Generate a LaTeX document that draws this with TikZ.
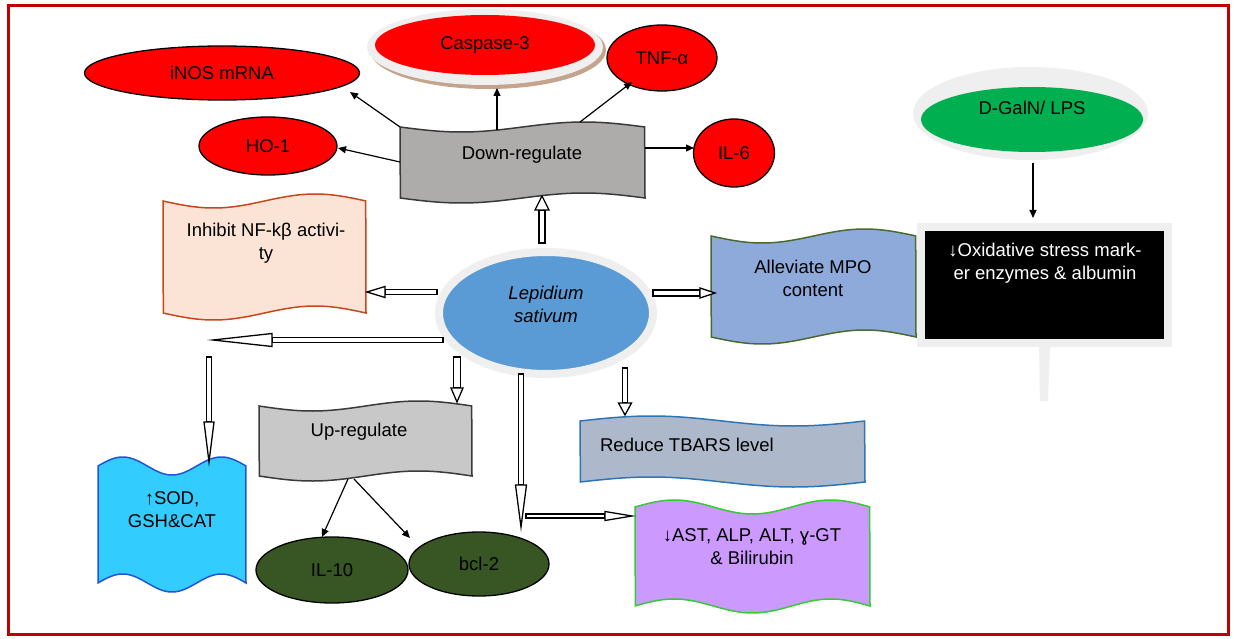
\documentclass[tikz,border=0pt]{standalone}
\usepackage{fontspec}
\setmainfont{Liberation Sans}
\usetikzlibrary{calc,arrows.meta,shapes.geometric,backgrounds}
\definecolor{framered}{HTML}{C00000}
\definecolor{ellred}{HTML}{FF0000}
\definecolor{ringgrey}{HTML}{EFEFEF}
\definecolor{casptan}{HTML}{C4A48C}
\definecolor{dggreen}{HTML}{00B050}
\definecolor{lsblue}{HTML}{5B9BD5}
\definecolor{dkgreen}{HTML}{375623}
\definecolor{downfill}{HTML}{AEABAB}
\definecolor{downedge}{HTML}{3A3A3A}
\definecolor{upfill}{HTML}{C8C8C8}
\definecolor{inhfill}{HTML}{FBE4D6}
\definecolor{inhedge}{HTML}{C8461A}
\definecolor{alvfill}{HTML}{8EAADB}
\definecolor{alvedge}{HTML}{4A6B2E}
\definecolor{tbfill}{HTML}{ADB9CA}
\definecolor{tbedge}{HTML}{2E75B6}
\definecolor{sodfill}{HTML}{33CCFF}
\definecolor{sodedge}{HTML}{2255D6}
\definecolor{purfill}{HTML}{CC99FF}
\definecolor{puredge}{HTML}{33CC33}

% wavy box: name, x1, ytop, x2, ybottom, amplitude, cycles, phase, style
\newcommand\wbox[9]{%
  \begin{scope}[on background layer]
  \filldraw[#9] plot[domain=0:1,samples=100,variable=\t] ({#2+(#4-#2)*\t},{#3+#6*sin(360*#7*\t+#8)})
    -- plot[domain=1:0,samples=100,variable=\t] ({#2+(#4-#2)*\t},{#5+#6*sin(360*#7*\t+#8)}) -- cycle;
  \end{scope}
  \node[boxn, minimum width={#4-#2}, minimum height={#5-#3}] (#1) at ({(#2+#4)/2},{(#3+#5)/2}) {};
}
% hollow block arrow: from, to, half shaft, half head, head length
\newcommand\harrow[5]{%
  \coordinate (hA) at (#1);
  \coordinate (hB) at (#2);
  \coordinate (hH) at ($(hB)!#5pt!(hA)$);
  \draw[harr] ($(hA)!#3pt!90:(hB)$) -- ($(hH)!#3pt!-90:(hA)$) -- ($(hH)!#3pt!90:(hA)$) -- ($(hA)!#3pt!-90:(hB)$) -- cycle;
  \draw[harr] ($(hH)!#4pt!-90:(hA)$) -- (hB) -- ($(hH)!#4pt!90:(hA)$) -- cycle;
}

\begin{document}
\begin{tikzpicture}[x=1pt,y=-1pt,
  every node/.style={inner sep=0pt, outer sep=0pt, font=\fontsize{18.5}{23}\selectfont},
  boxn/.style={draw=none, inner sep=0pt, outer sep=0pt},
  txt/.style={align=center, text=black},
  redell/.style={ellipse, draw=black, line width=1.3pt, fill=ellred},
  greenell/.style={ellipse, draw=black, line width=1.3pt, fill=dkgreen},
  thinarr/.style={draw=black, line width=1.2pt, -{Triangle[length=8pt,width=7pt]}},
  harr/.style={draw=black, line width=1.3pt, fill=white, line join=miter}]
\useasboundingbox (0,0) rectangle (1234,639);
\begin{scope}[on background layer]
  \fill[white] (0,0) rectangle (1234,639);
\end{scope}

% ---------- red ellipses ----------
\node[redell, minimum width=275, minimum height=54] (inos) at (222,73) {iNOS mRNA};
\fill[casptan] (488,50) ellipse [x radius=118, y radius=39];
\fill[ringgrey] (485,47) ellipse [x radius=118, y radius=38];
\node[ellipse, fill=ellred, minimum width=220, minimum height=60] (casp) at (485,45) {Caspase-3};
\node[redell, minimum width=110, minimum height=66] (tnf) at (662,58) {TNF-α};
\node[redell, minimum width=138, minimum height=58] (ho) at (268,146) {HO-1};
\node[redell, minimum width=81, minimum height=68] (il6) at (734,153) {IL-6};

% ---------- D-GalN / LPS ----------
\fill[ringgrey] (1030.5,113.5) ellipse [x radius=117.5, y radius=46.5];
\node[ellipse, fill=dggreen, minimum width=222, minimum height=65] (dg) at (1032,119.5) {};
\node[txt] (dgT) at (1032,108) {D-GalN/ LPS};

% ---------- black box ----------
\node[draw=ringgrey, line width=8pt, fill=black, minimum width=247, minimum height=116] (ox) at (1044.5,285) {};
\fill[ringgrey] (1039,347) -- (1050,347) -- (1048,401) -- (1040,401) -- cycle;
\node[txt, text=white] (oxT) at (1045,263) {↓Oxidative stress mark-\\er enzymes \& albumin};
\draw[thinarr] (1033,163) -- (1033,218);

% ---------- Lepidium sativum ----------
\node[ellipse, draw=ringgrey, line width=8pt, fill=lsblue, minimum width=214, minimum height=122] (ls) at (546,313) {};
\node[txt, font=\fontsize{18.5}{23}\selectfont\itshape] (lsT) at (546,304) {Lepidium\\sativum};

% ---------- wavy boxes ----------
\wbox{down}{400}{127}{645}{198}{5}{1}{0}{fill=downfill, draw=downedge, line width=1.5pt}
\node[txt] (downT) at (522,155) {Down-regulate};
\wbox{inh}{163}{201}{366}{313}{7}{1}{0}{fill=inhfill, draw=inhedge, line width=1.5pt}
\node[txt] (inhT) at (266,243) {Inhibit NF-kβ activi-\\ty};
\wbox{alv}{711}{236}{916}{337}{7}{1}{0}{fill=alvfill, draw=alvedge, line width=1.5pt}
\node[txt] (alvT) at (813,278) {Alleviate MPO\\content};
\wbox{up}{259}{406}{472}{476}{5}{1}{0}{fill=upfill, draw=downedge, line width=1.5pt}
\node[txt] (upT) at (359,432) {Up-regulate};
\wbox{tb}{580}{421}{865}{482}{5}{1}{180}{fill=tbfill, draw=tbedge, line width=1.5pt}
\node[txt] (tbT) at (687,445) {Reduce TBARS level};
\wbox{sod}{98}{466}{246}{583}{9}{1.5}{180}{fill=sodfill, draw=sodedge, line width=1.5pt}
\node[txt] (sodT) at (172,510) {↑SOD,\\GSH\&CAT};
\wbox{pur}{635}{507}{870}{606}{7}{1.5}{180}{fill=purfill, draw=puredge, line width=1.5pt}
\node[txt] (purT) at (752,547) {↓AST, ALP, ALT, ɣ-GT\\\& Bilirubin};

% ---------- green ellipses ----------
\node[greenell, minimum width=152, minimum height=66] (il10) at (332,570) {IL-10};
\node[greenell, minimum width=140, minimum height=64] (bcl) at (479,564) {bcl-2};

% ---------- thin arrows ----------
\coordinate (s1) at (400,127); \coordinate (e1) at (350,92);
\coordinate (s2) at (497,130); \coordinate (e2) at (497,88);
\coordinate (s3) at (580,122); \coordinate (e3) at (632,82);
\coordinate (s4) at (400,162); \coordinate (e4) at (338,148);
\coordinate (s5) at (645,148); \coordinate (e5) at (694,148);
\coordinate (s6) at (348,479); \coordinate (e6) at (322,537);
\coordinate (s7) at (354,479); \coordinate (e7) at (410,538);
\draw[thinarr] (s1) -- (e1);
\draw[thinarr] (s2) -- (e2);
\draw[thinarr] (s3) -- (e3);
\draw[thinarr] (s4) -- (e4);
\draw[thinarr] (s5) -- (e5);
\draw[thinarr] (s6) -- (e6);
\draw[thinarr] (s7) -- (e7);

% ---------- hollow arrows ----------
\coordinate (h1s) at (542,243); \coordinate (h1e) at (542,196);
\coordinate (h2s) at (437,292); \coordinate (h2e) at (367,292);
\coordinate (h3s) at (443,340); \coordinate (h3e) at (213,340);
\coordinate (h4s) at (209,357); \coordinate (h4e) at (209,462);
\coordinate (h5s) at (457,357); \coordinate (h5e) at (457,402);
\coordinate (h6s) at (521,374); \coordinate (h6e) at (521,527);
\coordinate (h7s) at (526,516); \coordinate (h7e) at (632,516);
\coordinate (h8s) at (625,368); \coordinate (h8e) at (625,415);
\coordinate (h9s) at (653,293); \coordinate (h9e) at (715,293);
\harrow{h1s}{h1e}{3}{7}{14}
\harrow{h2s}{h2e}{2.5}{5.5}{18}
\harrow{h3s}{h3e}{2.5}{6.5}{59}
\harrow{h4s}{h4e}{2.5}{5}{40}
\harrow{h5s}{h5e}{3.5}{6}{14}
\harrow{h6s}{h6e}{2.5}{5.5}{42}
\harrow{h7s}{h7e}{2}{4.5}{27}
\harrow{h8s}{h8e}{2.5}{6.5}{12}
\harrow{h9s}{h9e}{3}{5}{15}

% ---------- frame ----------
\draw[framered, line width=3pt] (8,6) rectangle (1228,634);
\end{tikzpicture}
\end{document}
